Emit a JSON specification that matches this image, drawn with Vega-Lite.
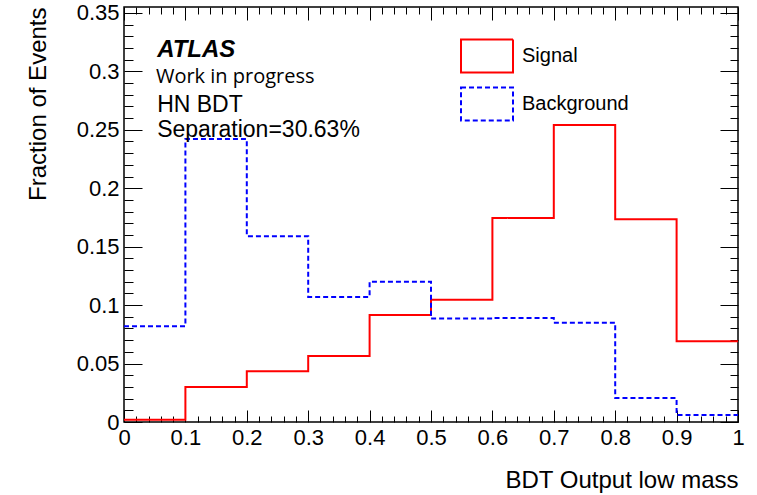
{
  "$schema": "https://vega.github.io/schema/vega-lite/v6.json",
  "width": 614,
  "height": 415,
  "autosize": {"type": "none"},
  "padding": {"left": 124, "top": 7, "right": 19, "bottom": 73},
  "background": "white",
  "config": {
    "font": "Liberation Sans",
    "view": {"stroke": "black", "strokeWidth": 1.5},
    "axis": {"domain": false, "grid": false, "tickColor": "black", "labelColor": "black", "titleColor": "black", "tickWidth": 1, "labelFlush": false, "labelBound": false, "labelOverlap": false, "titleFontWeight": "normal"}
  },
  "datasets": {
    "hist": [
      {"lo": 0.0, "hi": 0.1, "Signal": 0.002, "Background": 0.082},
      {"lo": 0.1, "hi": 0.2, "Signal": 0.030, "Background": 0.242},
      {"lo": 0.2, "hi": 0.3, "Signal": 0.0435, "Background": 0.159},
      {"lo": 0.3, "hi": 0.4, "Signal": 0.0565, "Background": 0.107},
      {"lo": 0.4, "hi": 0.5, "Signal": 0.0915, "Background": 0.120},
      {"lo": 0.5, "hi": 0.6, "Signal": 0.1045, "Background": 0.0885},
      {"lo": 0.6, "hi": 0.7, "Signal": 0.1745, "Background": 0.089},
      {"lo": 0.7, "hi": 0.8, "Signal": 0.254, "Background": 0.085},
      {"lo": 0.8, "hi": 0.9, "Signal": 0.1735, "Background": 0.0205},
      {"lo": 0.9, "hi": 1.0, "Signal": 0.069, "Background": 0.006}
    ],
    "atlas": [{"x": 0.054, "y": 0.3123, "label": "ATLAS"}],
    "wip": [{"x": 0.052, "y": 0.290, "label": "Work in progress"}],
    "notes": [
      {"x": 0.054, "y": 0.2653, "label": "HN BDT"},
      {"x": 0.054, "y": 0.244, "label": "Separation=30.63%"}
    ]
  },
  "layer": [
    {
      "data": {"name": "hist"},
      "transform": [
        {"fold": ["Signal", "Background"], "as": ["series", "frac"]},
        {"fold": ["lo", "hi"], "as": ["edgeType", "edge"]}
      ],
      "mark": {"type": "line", "strokeWidth": 2, "interpolate": "linear"},
      "encoding": {
        "x": {
          "field": "edge", "type": "quantitative",
          "scale": {"domain": [0, 1], "nice": false, "zero": false},
          "axis": {
            "orient": "bottom",
            "values": [0,0.02,0.04,0.06,0.08,0.1,0.12,0.14,0.16,0.18,0.2,0.22,0.24,0.26,0.28,0.3,0.32,0.34,0.36,0.38,0.4,0.42,0.44,0.46,0.48,0.5,0.52,0.54,0.56,0.58,0.6,0.62,0.64,0.66,0.68,0.7,0.72,0.74,0.76,0.78,0.8,0.82,0.84,0.86,0.88,0.9,0.92,0.94,0.96,0.98,1],
            "format": "~g",
            "tickSize": {"condition": {"test": "abs(datum.value*10-round(datum.value*10))<0.001", "value": -12}, "value": -6},
            "labelExpr": "abs(datum.value*10-round(datum.value*10))<0.001 ? datum.label : ''",
            "labelFontSize": 22,
            "labelPadding": 17,
            "title": "BDT Output low mass",
            "titleAnchor": "end",
            "titleFontSize": 24,
            "titlePadding": 14
          }
        },
        "y": {
          "field": "frac", "type": "quantitative",
          "scale": {"domain": [0, 0.355], "nice": false, "zero": false},
          "axis": {
            "orient": "left",
            "values": [0,0.01,0.02,0.03,0.04,0.05,0.06,0.07,0.08,0.09,0.1,0.11,0.12,0.13,0.14,0.15,0.16,0.17,0.18,0.19,0.2,0.21,0.22,0.23,0.24,0.25,0.26,0.27,0.28,0.29,0.3,0.31,0.32,0.33,0.34,0.35],
            "format": "~g",
            "tickSize": {"condition": {"test": "abs(datum.value*20-round(datum.value*20))<0.001", "value": -18}, "value": -9},
            "labelExpr": "abs(datum.value*20-round(datum.value*20))<0.001 ? datum.label : ''",
            "labelFontSize": 22,
            "labelPadding": 23,
            "title": "Fraction of Events",
            "titleAnchor": "end",
            "titleFontSize": 24,
            "titlePadding": 26
          }
        },
        "color": {
          "field": "series", "type": "nominal",
          "scale": {"domain": ["Signal", "Background"], "range": ["#ff0000", "#0000ff"]},
          "legend": {
            "orient": "none", "legendX": 336, "legendY": 22, "title": null,
            "symbolType": "M-1,-0.63H1V0.63H-1Z", "symbolSize": 2704, "symbolStrokeWidth": 2,
            "symbolFillColor": "transparent",
            "labelFontSize": 20, "labelOffset": 8, "rowPadding": -1, "labelColor": "black"
          }
        },
        "strokeDash": {
          "field": "series", "type": "nominal",
          "scale": {"domain": ["Signal", "Background"], "range": [[1, 0], [5, 3]]},
          "legend": {
            "orient": "none", "legendX": 336, "legendY": 22, "title": null,
            "symbolType": "M-1,-0.63H1V0.63H-1Z", "symbolSize": 2704, "symbolStrokeWidth": 2,
            "symbolFillColor": "transparent",
            "labelFontSize": 20, "labelOffset": 8, "rowPadding": -1, "labelColor": "black"
          }
        },
        "order": [
          {"field": "edge", "type": "quantitative"},
          {"field": "edgeType", "type": "nominal"}
        ]
      }
    },
    {
      "data": {"name": "hist"},
      "transform": [
        {"fold": ["Signal", "Background"], "as": ["series", "frac"]},
        {"fold": ["lo", "hi"], "as": ["edgeType", "edge"]}
      ],
      "mark": {"type": "line", "opacity": 0},
      "encoding": {
        "x": {
          "field": "edge", "type": "quantitative",
          "scale": {"domain": [0, 1], "nice": false, "zero": false},
          "axis": {
            "orient": "top",
            "values": [0,0.02,0.04,0.06,0.08,0.1,0.12,0.14,0.16,0.18,0.2,0.22,0.24,0.26,0.28,0.3,0.32,0.34,0.36,0.38,0.4,0.42,0.44,0.46,0.48,0.5,0.52,0.54,0.56,0.58,0.6,0.62,0.64,0.66,0.68,0.7,0.72,0.74,0.76,0.78,0.8,0.82,0.84,0.86,0.88,0.9,0.92,0.94,0.96,0.98,1],
            "labels": false,
            "tickSize": {"condition": {"test": "abs(datum.value*10-round(datum.value*10))<0.001", "value": -13}, "value": -7},
            "title": null
          }
        },
        "y": {
          "field": "frac", "type": "quantitative",
          "scale": {"domain": [0, 0.355], "nice": false, "zero": false},
          "axis": {
            "orient": "right",
            "values": [0,0.01,0.02,0.03,0.04,0.05,0.06,0.07,0.08,0.09,0.1,0.11,0.12,0.13,0.14,0.15,0.16,0.17,0.18,0.19,0.2,0.21,0.22,0.23,0.24,0.25,0.26,0.27,0.28,0.29,0.3,0.31,0.32,0.33,0.34,0.35],
            "labels": false,
            "tickSize": {"condition": {"test": "abs(datum.value*20-round(datum.value*20))<0.001", "value": -18}, "value": -8},
            "title": null
          }
        },
        "detail": {"field": "series", "type": "nominal"},
        "order": [
          {"field": "edge", "type": "quantitative"},
          {"field": "edgeType", "type": "nominal"}
        ]
      }
    },
    {
      "data": {"name": "atlas"},
      "mark": {"type": "text", "align": "left", "baseline": "alphabetic", "font": "Liberation Sans", "fontStyle": "italic", "fontWeight": "bold", "fontSize": 24, "color": "black"},
      "encoding": {
        "x": {"field": "x", "type": "quantitative", "scale": {"domain": [0, 1], "nice": false, "zero": false}, "axis": null},
        "y": {"field": "y", "type": "quantitative", "scale": {"domain": [0, 0.355], "nice": false, "zero": false}, "axis": null},
        "text": {"field": "label"}
      }
    },
    {
      "data": {"name": "wip"},
      "mark": {"type": "text", "align": "left", "baseline": "alphabetic", "font": "Open Sans", "fontSize": 20, "color": "black"},
      "encoding": {
        "x": {"field": "x", "type": "quantitative", "scale": {"domain": [0, 1], "nice": false, "zero": false}, "axis": null},
        "y": {"field": "y", "type": "quantitative", "scale": {"domain": [0, 0.355], "nice": false, "zero": false}, "axis": null},
        "text": {"field": "label"}
      }
    },
    {
      "data": {"name": "notes"},
      "mark": {"type": "text", "align": "left", "baseline": "alphabetic", "font": "Liberation Sans", "fontSize": 23, "color": "black"},
      "encoding": {
        "x": {"field": "x", "type": "quantitative", "scale": {"domain": [0, 1], "nice": false, "zero": false}, "axis": null},
        "y": {"field": "y", "type": "quantitative", "scale": {"domain": [0, 0.355], "nice": false, "zero": false}, "axis": null},
        "text": {"field": "label"}
      }
    }
  ],
  "resolve": {"axis": {"x": "independent", "y": "independent"}}
}
